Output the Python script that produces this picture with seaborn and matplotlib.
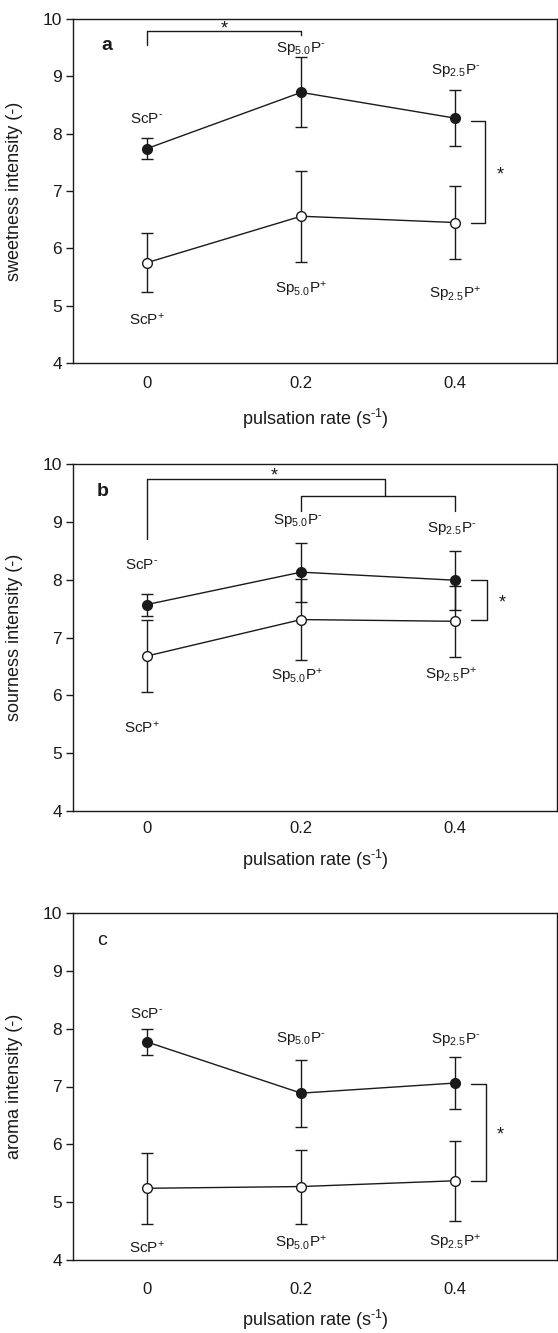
import matplotlib
matplotlib.use("Agg")
import matplotlib.pyplot as plt
import seaborn as sns
import pandas as pd

# pulsation rates (s-1) and tick labels
rates = [0, 0.2, 0.4]
tick_labels = ["0", "0.2", "0.4"]

# panel a - sweetness
sweet_minus = [7.74, 8.72, 8.27]
sweet_minus_err = [0.19, 0.61, 0.49]
sweet_plus = [5.75, 6.56, 6.45]
sweet_plus_err = [0.51, 0.79, 0.635]

# panel b - sourness
sour_minus = [7.57, 8.13, 7.99]
sour_minus_err = [0.19, 0.51, 0.51]
sour_plus = [6.68, 7.31, 7.28]
sour_plus_err = [0.63, 0.70, 0.61]

# panel c - aroma
aroma_minus = [7.77, 6.885, 7.06]
aroma_minus_err = [0.22, 0.58, 0.455]
aroma_plus = [5.24, 5.27, 5.37]
aroma_plus_err = [0.61, 0.64, 0.69]

minus_labels = ["ScP$^{\u2010}$", "Sp$_{5.0}$P$^{\u2010}$", "Sp$_{2.5}$P$^{\u2010}$"]
plus_labels = ["ScP$^{+}$", "Sp$_{5.0}$P$^{+}$", "Sp$_{2.5}$P$^{+}$"]

sns.set_style("ticks")
plt.rcParams['font.family'] = ['Liberation Sans', 'DejaVu Sans']
plt.rcParams['mathtext.fontset'] = 'custom'
plt.rcParams['mathtext.rm'] = 'Liberation Sans'
plt.rcParams['mathtext.default'] = 'regular'

INK = '#1a1a1a'


def draw_series(ax, y, err, filled):
    df = pd.DataFrame({'rate': rates, 'val': y})
    ax.errorbar(rates, y, yerr=err, fmt='none', ecolor=INK, elinewidth=1,
                capsize=4, capthick=1, zorder=2)
    sns.lineplot(data=df, x='rate', y='val', ax=ax, color=INK, lw=1,
                 marker='o', markersize=7, markeredgecolor=INK, markeredgewidth=1,
                 markerfacecolor=INK if filled else 'white', zorder=3)


def setup(ax, ylabel, tick_pad, label_pad):
    ax.set_xlim(-0.096, 0.532)
    ax.set_ylim(4, 10)
    ax.set_xticks(rates, tick_labels)
    ax.set_yticks(range(4, 11))
    ax.tick_params(axis='x', length=0, pad=tick_pad, labelsize=12, colors=INK)
    ax.tick_params(axis='y', length=5, width=1, labelsize=12.5, pad=3, colors=INK)
    for s in ax.spines.values():
        s.set_visible(True)
        s.set_linewidth(1)
        s.set_color(INK)
    ax.set_ylabel(ylabel, fontsize=13, color=INK)
    ax.yaxis.set_label_coords(-0.103, 0.5)
    ax.set_xlabel("pulsation rate (s$^{\u2010 1}$)", fontsize=13, labelpad=label_pad, color=INK)


def point_labels(ax, labels, xs, ys):
    for t, x, y in zip(labels, xs, ys):
        ax.text(x, y, t, ha='center', va='center', fontsize=11, color=INK)


def line(ax, xs, ys):
    ax.plot(xs, ys, color=INK, lw=1)


def star(ax, x, y):
    ax.text(x, y, '*', ha='center', va='center', fontsize=13, color=INK)


fig = plt.figure(figsize=(5.58, 13.33), dpi=100)
W = 558.0
H = 1333.0
left = 73 / W
width = 484 / W

# ---- panel a
ax1 = fig.add_axes([left, 1 - 363 / H, width, 344 / H])
draw_series(ax1, sweet_minus, sweet_minus_err, True)
draw_series(ax1, sweet_plus, sweet_plus_err, False)
setup(ax1, "sweetness intensity (-)", 9, 12)
point_labels(ax1, minus_labels, [0, 0.2, 0.4], [8.26, 9.49, 9.10])
point_labels(ax1, plus_labels, [0, 0.2, 0.4], [4.76, 5.28, 5.19])
ax1.text(-0.052, 9.53, 'a', fontsize=14, fontweight='bold', ha='center', va='center', color=INK)
line(ax1, [0, 0, 0.2, 0.2], [9.54, 9.79, 9.79, 9.72])
star(ax1, 0.1, 9.83)
line(ax1, [0.421, 0.439, 0.439, 0.421], [8.22, 8.22, 6.45, 6.45])
star(ax1, 0.458, 7.28)

# ---- panel b
ax2 = fig.add_axes([left, 1 - 811 / H, width, 347 / H])
draw_series(ax2, sour_minus, sour_minus_err, True)
draw_series(ax2, sour_plus, sour_plus_err, False)
setup(ax2, "sourness intensity (-)", 7, 9)
point_labels(ax2, minus_labels, [-0.007, 0.195, 0.395], [8.26, 9.03, 8.89])
point_labels(ax2, plus_labels, [-0.007, 0.195, 0.395], [5.44, 6.33, 6.34])
ax2.text(-0.058, 9.53, 'b', fontsize=14, fontweight='bold', ha='center', va='center', color=INK)
line(ax2, [0, 0, 0.309, 0.309], [8.70, 9.74, 9.74, 9.45])
line(ax2, [0.2, 0.2, 0.4, 0.4], [9.18, 9.45, 9.45, 9.18])
star(ax2, 0.165, 9.80)
line(ax2, [0.421, 0.441, 0.441, 0.421], [7.99, 7.99, 7.30, 7.30])
star(ax2, 0.461, 7.60)

# ---- panel c
ax3 = fig.add_axes([left, 1 - 1260 / H, width, 347 / H])
draw_series(ax3, aroma_minus, aroma_minus_err, True)
draw_series(ax3, aroma_plus, aroma_plus_err, False)
setup(ax3, "aroma intensity (-)", 16, 8)
point_labels(ax3, minus_labels, [0, 0.2, 0.4], [8.25, 7.83, 7.82])
point_labels(ax3, plus_labels, [0, 0.2, 0.4], [4.21, 4.29, 4.30])
ax3.text(-0.058, 9.53, 'c', fontsize=14, ha='center', va='center', color=INK)
line(ax3, [0.421, 0.44, 0.44, 0.421], [7.04, 7.04, 5.37, 5.37])
star(ax3, 0.458, 6.17)

fig.savefig("out.png", dpi=100)
